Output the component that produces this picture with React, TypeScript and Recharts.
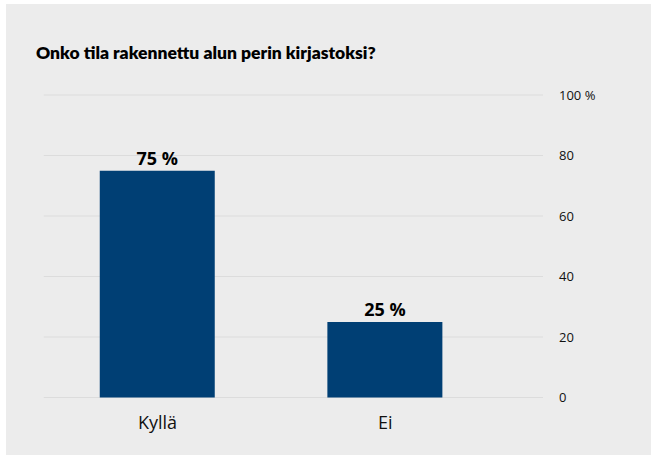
import { BarChart, Bar, XAxis, YAxis, CartesianGrid, LabelList } from 'recharts';

const categories = ['Kyllä', 'Ei'];
const shares = [75, 25];
const yTicks = [0, 20, 40, 60, 80, 100];
const title = 'Onko tila rakennettu alun perin kirjastoksi?';

const data = categories.map((name, i) => ({ name, value: shares[i] }));

const BAR_COLOR = '#003f74';
const FONT = '"Open Sans", "DejaVu Sans", sans-serif';

export default function App() {
  return (
    <div style={{ position: 'absolute', left: 0, top: 0, width: 651, height: 455, overflow: 'hidden', background: '#fff' }}>
      <div style={{ position: 'absolute', left: 6, top: 4, width: 645, height: 451, background: '#ececec' }} />
      <div
        style={{
          position: 'absolute',
          left: 36,
          top: 43,
          fontFamily: 'Lato, sans-serif',
          fontWeight: 800,
          fontSize: 17.5,
          lineHeight: '20px',
          color: '#000',
          whiteSpace: 'nowrap',
        }}
      >
        {title}
      </div>
      <div style={{ position: 'absolute', left: 0, top: 0 }}>
        <BarChart
          width={651}
          height={455}
          data={data}
          margin={{ top: 95, right: 0, bottom: 27.5, left: 43.75 }}
        >
          <CartesianGrid vertical={false} stroke="#dcdcdc" />
          <XAxis
            dataKey="name"
            height={30}
            padding={{ left: 0, right: 44 }}
            axisLine={false}
            tickLine={false}
            tickMargin={13}
            tick={{ fill: '#111', fontSize: 18, fontFamily: FONT }}
          />
          <YAxis
            orientation="right"
            width={108}
            domain={[0, 100]}
            ticks={yTicks}
            axisLine={false}
            tickLine={false}
            tickMargin={10}
            tickFormatter={(v: number) => (v === 100 ? '100 %' : String(v))}
            tick={{ fill: '#111', fontSize: 13, fontFamily: FONT, textAnchor: 'start' }}
          />
          <Bar dataKey="value" fill={BAR_COLOR} barSize={115} isAnimationActive={false}>
            <LabelList
              dataKey="value"
              position="top"
              offset={6}
              formatter={(v: number) => `${v} %`}
              style={{ fill: '#000', fontSize: 18, fontWeight: 700, fontFamily: FONT }}
            />
          </Bar>
        </BarChart>
      </div>
    </div>
  );
}
